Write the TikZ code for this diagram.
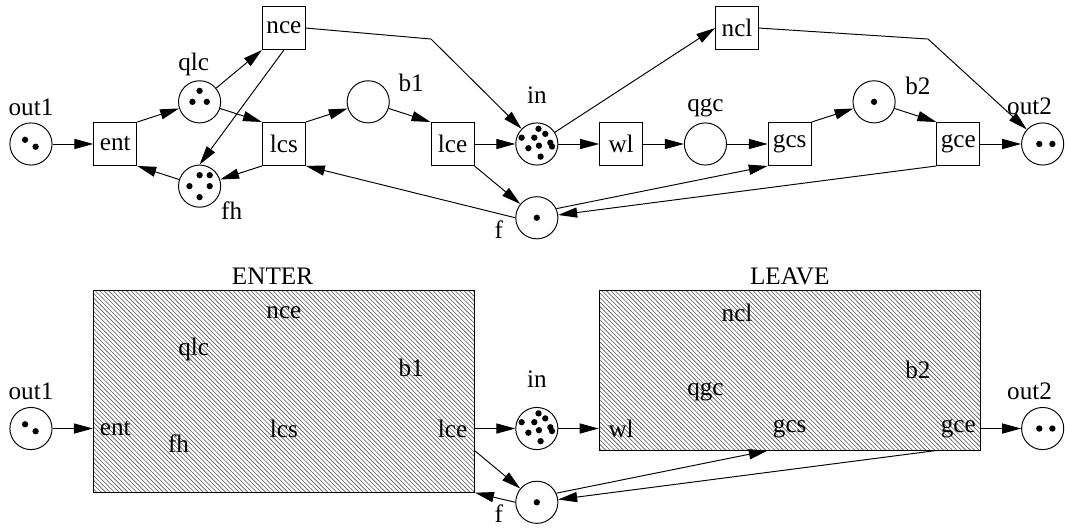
\documentclass[tikz,border=0pt]{standalone}
\usepackage{fontspec}
\setmainfont{Liberation Serif}
\usetikzlibrary{positioning,fit,patterns,arrows.meta}

\begin{document}
\begin{tikzpicture}[
    font=\fontsize{17}{20}\selectfont,
    node distance=1cm and 2cm, on grid,
    place/.style={circle, draw, line width=0.65pt, minimum size=1cm, inner sep=0pt},
    trans/.style={rectangle, draw, line width=0.65pt, minimum size=1.02cm, inner sep=0pt},
    subnet/.style={rectangle, draw, line width=0.65pt, inner sep=0pt,
        pattern=north west lines, pattern color=black!65},
    arc/.style={line width=0.65pt, -{Triangle[length=4.5mm, width=2.4mm]}}
]
    \useasboundingbox (-0.735,-9.13) rectangle (24.53,3.416);

    % full net
    \node[place] (out1) {};
    \node[trans, right=of out1] (ent) {ent};
    \node[place, above right=of ent] (qlc) {};
    \node[place, below right=of ent] (fh) {};
    \node[trans, below right=of qlc] (lcs) {lcs};
    \node[trans, above=2.75cm of lcs] (nce) {nce};
    \node[place, above right=of lcs] (b1) {};
    \node[trans, below right=of b1] (lce) {lce};
    \node[place, right=of lce] (in) {};
    \node[place, below=1.75cm of in] (f) {};
    \node[trans, right=of in] (wl) {wl};
    \node[place, right=of wl] (qgc) {};
    \node[trans, right=of qgc] (gcs) {gcs};
    \node[trans, above right=2.75cm and 0.75cm of qgc] (ncl) {ncl};
    \node[place, above right=of gcs] (b2) {};
    \node[trans, below right=of b2] (gce) {gce};
    \node[place, right=of gce] (out2) {};

    \coordinate (ncebend) at ([shift={(3.49,-0.26)}]nce);
    \coordinate (nclbend) at ([shift={(4.53,-0.26)}]ncl);

    % folded net
    \node[place, below=6.75cm of out1] (out1b) {};
    \node[place, below=6.75cm of in] (inb) {};
    \node[place, below=6.75cm of f] (fb) {};
    \node[place, below=6.75cm of out2] (out2b) {};
    \node[subnet, fit={(ent.west) (lce.east) (nce.north) (fh.south)}, yshift=-6.75cm,
        label={[xshift=-0.27cm]above:ENTER}] (enter) {};
    \node[subnet, fit={(wl.west) (gce.east) (ncl.north) (gce.south)}, yshift=-6.75cm,
        label={above:LEAVE}] (leave) {};

    % place names
    \foreach \p/\dx/\dy in {out1/0/0.88, qlc/-0.14/0.88, fh/0.76/-0.57, b1/1.02/0.45,
        in/0/1.16, f/-0.9/-0.28, qgc/0/0.87, b2/1.04/0.39, out2/-0.31/0.89}
        \node (\p-lbl) at ([shift={(\dx,\dy)}]\p) {\p};
    \foreach \p/\dx/\dy in {out1/0/0.88, in/0/1.16, f/-0.9/-0.28, out2/-0.31/0.89}
        \node (\p b-lbl) at ([shift={(\dx,\dy)}]\p b) {\p};

    % names inside the hatched boxes
    \foreach \t in {ent,nce,lcs,lce,wl,gcs,gce,ncl}
        \node (\t-in) at ([yshift=-6.75cm]\t) {\t};
    \foreach \p/\dx/\dy in {qlc/-0.14/0.88, b1/1.02/0.45, qgc/0/0.87, b2/1.04/0.39}
        \node (\p-in) at ([shift={(\dx,\dy-6.75)}]\p) {\p};
    \node (fh-in) at ([shift={(-0.5,-6.11)}]fh) {fh};

    % tokens
    \foreach \s in {,b} {
        \foreach \dx/\dy in {-0.14/0.1, 0.11/-0.065}
            \fill ([shift={(\dx,\dy)}]out1\s) circle (0.075);
        \foreach \dx/\dy in {0.04/0.36, 0.2/0.24, -0.36/0.15, -0.06/0.15, 0.32/0.03,
                0.36/-0.06, -0.2/-0.1, 0.05/-0.04, 0.09/-0.3}
            \fill ([shift={(\dx,\dy)}]in\s) circle (0.075);
        \fill (f\s) circle (0.075);
        \foreach \dx in {-0.08, 0.23}
            \fill ([xshift=\dx cm]out2\s) circle (0.075);
    }
    \foreach \dx/\dy in {0/0.26, -0.17/0, 0.17/0}
        \fill ([shift={(\dx,\dy)}]qlc) circle (0.075);
    \foreach \dx/\dy in {0/0.26, 0.24/0.26, -0.24/0, 0.24/0, 0/-0.26}
        \fill ([shift={(\dx,\dy)}]fh) circle (0.075);
    \fill (b2) circle (0.075);

    % arcs of the full net
    \draw[arc] (out1) -- (ent);
    \draw[arc] (ent.north east) -- (qlc);
    \draw[arc] (qlc) -- (nce.south west);
    \draw[arc] (qlc) -- (lcs.north west);
    \draw[arc] (nce.south) -- (fh.north);
    \draw[arc] (fh) -- (ent.south east);
    \draw[arc] (lcs.south west) -- (fh);
    \draw[arc] (lcs.north east) -- (b1);
    \draw[arc] (b1) -- (lce.north west);
    \draw[arc] (lce) -- (in);
    \draw[arc] (lce.south east) -- (f);
    \draw[arc] (f.west) -- (lcs.south east);
    \draw[arc] (nce.east) -- (ncebend) -- (in);
    \draw[arc] (in) -- (ncl.west);
    \draw[arc] (in) -- (wl);
    \draw[arc] (wl) -- (qgc);
    \draw[arc] (qgc) -- (gcs);
    \draw[arc] (f.25) -- (gcs.south west);
    \draw[arc] (gcs.north east) -- (b2);
    \draw[arc] (b2) -- (gce.north west);
    \draw[arc] (gce.south west) -- (f);
    \draw[arc] (gce) -- (out2);
    \draw[arc] (ncl.east) -- (nclbend) -- (out2);

    % arcs of the folded net
    \draw[arc] (out1b) -- (out1b -| enter.west);
    \draw[arc] (enter.east |- inb) -- (inb);
    \draw[arc] (inb) -- (inb -| leave.west);
    \draw[arc] (leave.east |- out2b) -- (out2b);
    \draw[arc] ([yshift=-6.75cm]lce.south east) -- (fb);
    \draw[arc] (fb.west) -- (enter.south east);
    \draw[arc] (fb.25) -- ([yshift=-6.75cm]gcs.south west);
    \draw[arc] ([yshift=-6.75cm]gce.south west) -- (fb);
\end{tikzpicture}
\end{document}
